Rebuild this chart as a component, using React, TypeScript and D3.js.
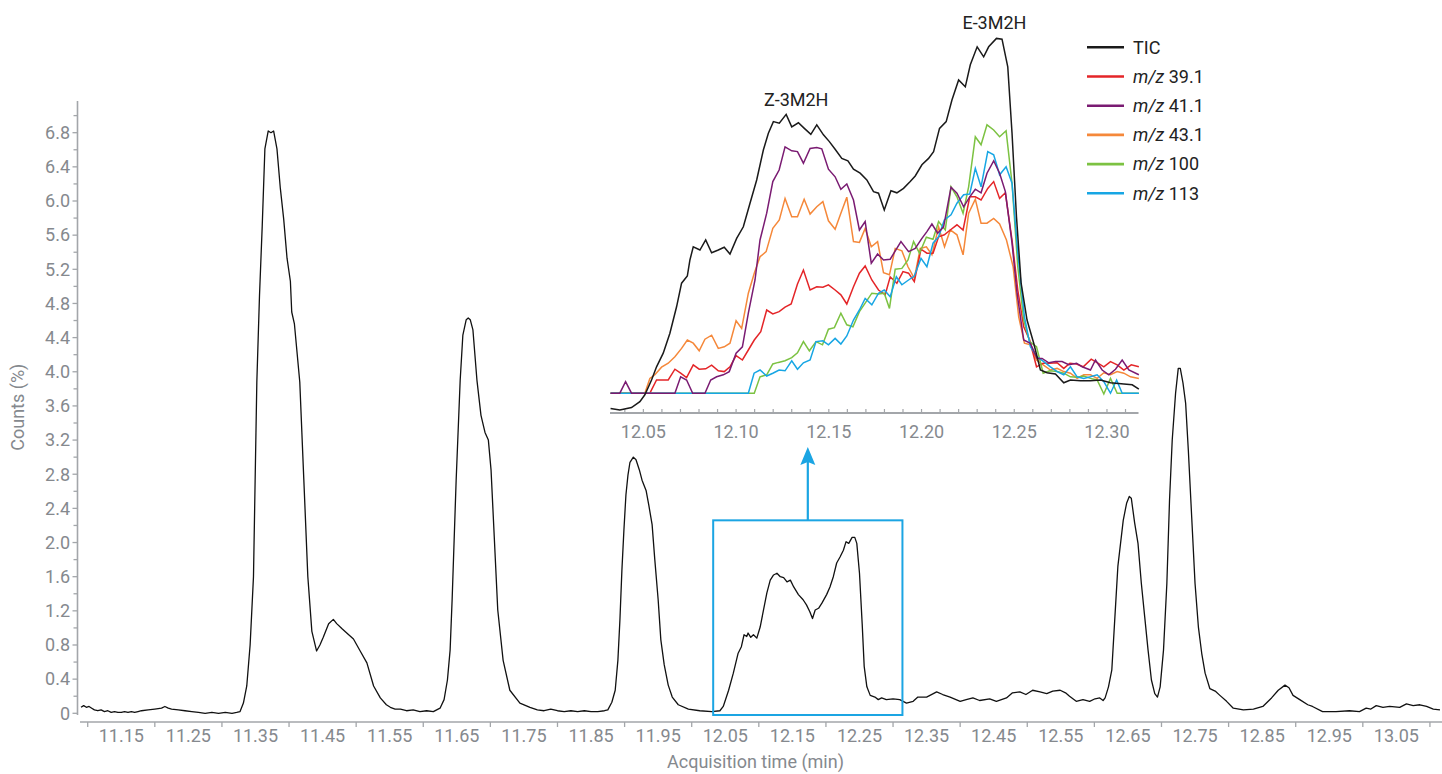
import React from 'react';
import * as d3 from 'd3';

// ─── Data ──────────────────────────────────────────────────

type Pt = [number, number];

// Full run TIC: [acquisition time (min), counts (%)]
const ticMain: Pt[] = [
  [11.09, 0.07], [11.094, 0.09], [11.098, 0.07], [11.102, 0.08], [11.106, 0.06], [11.11, 0.04],
  [11.115, 0.03], [11.12, 0.04], [11.125, 0.02], [11.13, 0.03], [11.135, 0.01], [11.14, 0.02],
  [11.145, 0.01], [11.15, 0.01], [11.155, 0.02], [11.16, 0.01], [11.165, 0.02], [11.17, 0.01],
  [11.175, 0.02], [11.18, 0.03], [11.19, 0.04], [11.2, 0.05], [11.21, 0.06], [11.215, 0.08],
  [11.22, 0.06], [11.225, 0.05], [11.235, 0.04], [11.245, 0.03], [11.255, 0.02], [11.265, 0.01],
  [11.275, 0.0], [11.285, 0.01], [11.295, 0.0], [11.305, 0.01], [11.315, 0.0], [11.322, 0.01],
  [11.327, 0.02], [11.332, 0.12], [11.337, 0.32], [11.342, 0.8], [11.347, 1.6], [11.352, 3.88],
  [11.356, 4.9], [11.36, 5.7], [11.364, 6.61], [11.369, 6.82], [11.373, 6.8], [11.377, 6.82],
  [11.382, 6.61], [11.387, 6.15], [11.392, 5.79], [11.397, 5.33], [11.402, 5.06], [11.404, 4.7],
  [11.408, 4.56], [11.416, 3.88], [11.422, 2.74], [11.428, 1.6], [11.434, 0.96], [11.441, 0.73],
  [11.446, 0.8], [11.451, 0.89], [11.459, 1.05], [11.466, 1.1], [11.471, 1.05], [11.479, 0.99],
  [11.486, 0.94], [11.496, 0.87], [11.506, 0.73], [11.516, 0.59], [11.526, 0.32], [11.536, 0.18],
  [11.545, 0.1], [11.551, 0.07], [11.558, 0.05], [11.566, 0.05], [11.575, 0.03], [11.585, 0.04],
  [11.595, 0.02], [11.605, 0.03], [11.615, 0.02], [11.625, 0.06], [11.631, 0.16], [11.636, 0.39],
  [11.64, 0.74], [11.643, 1.33], [11.646, 2.03], [11.649, 2.73], [11.655, 3.9], [11.659, 4.43],
  [11.664, 4.61], [11.667, 4.63], [11.67, 4.61], [11.674, 4.49], [11.68, 3.9], [11.686, 3.49],
  [11.692, 3.29], [11.697, 3.2], [11.701, 2.85], [11.706, 2.03], [11.711, 1.21], [11.719, 0.62],
  [11.729, 0.27], [11.744, 0.12], [11.759, 0.07], [11.77, 0.04], [11.78, 0.03], [11.79, 0.05],
  [11.8, 0.03], [11.81, 0.02], [11.82, 0.03], [11.83, 0.02], [11.84, 0.03], [11.85, 0.02],
  [11.86, 0.02], [11.87, 0.03], [11.875, 0.04], [11.881, 0.13], [11.886, 0.27], [11.89, 0.62],
  [11.893, 1.09], [11.896, 1.68], [11.899, 2.15], [11.902, 2.56], [11.905, 2.79], [11.908, 2.94],
  [11.913, 3.0], [11.917, 2.97], [11.922, 2.85], [11.926, 2.73], [11.932, 2.61], [11.936, 2.44],
  [11.941, 2.21], [11.945, 1.8], [11.95, 1.33], [11.954, 0.86], [11.959, 0.57], [11.965, 0.33],
  [11.971, 0.19], [11.98, 0.1], [11.995, 0.05], [12.012, 0.03], [12.03, 0.02], [12.042, 0.03],
  [12.047, 0.08], [12.055, 0.27], [12.062, 0.47], [12.069, 0.7], [12.074, 0.78], [12.078, 0.92],
  [12.082, 0.9], [12.084, 0.94], [12.088, 0.89], [12.092, 0.92], [12.097, 0.88], [12.102, 1.01],
  [12.107, 1.21], [12.112, 1.41], [12.117, 1.56], [12.122, 1.62], [12.127, 1.64], [12.132, 1.6],
  [12.137, 1.59], [12.142, 1.54], [12.147, 1.56], [12.152, 1.48], [12.159, 1.39], [12.166, 1.33],
  [12.171, 1.27], [12.176, 1.19], [12.18, 1.11], [12.184, 1.21], [12.189, 1.23], [12.194, 1.29],
  [12.201, 1.39], [12.206, 1.48], [12.211, 1.6], [12.216, 1.76], [12.221, 1.83], [12.226, 1.91],
  [12.23, 2.01], [12.234, 1.99], [12.239, 2.06], [12.243, 2.06], [12.246, 1.99], [12.25, 1.64],
  [12.254, 1.05], [12.257, 0.55], [12.261, 0.31], [12.266, 0.21], [12.273, 0.19], [12.278, 0.16],
  [12.283, 0.18], [12.29, 0.16], [12.3, 0.17], [12.31, 0.16], [12.32, 0.12], [12.33, 0.14],
  [12.337, 0.19], [12.35, 0.19], [12.365, 0.25], [12.374, 0.22], [12.385, 0.19], [12.4, 0.14],
  [12.409, 0.16], [12.419, 0.18], [12.429, 0.15], [12.444, 0.17], [12.454, 0.14], [12.469, 0.18],
  [12.478, 0.24], [12.489, 0.25], [12.498, 0.22], [12.508, 0.27], [12.519, 0.25], [12.529, 0.23],
  [12.538, 0.26], [12.549, 0.27], [12.557, 0.24], [12.563, 0.2], [12.573, 0.14], [12.583, 0.16],
  [12.593, 0.14], [12.601, 0.17], [12.608, 0.18], [12.613, 0.15], [12.616, 0.18], [12.621, 0.31],
  [12.626, 0.51], [12.63, 1.05], [12.635, 1.72], [12.643, 2.26], [12.648, 2.46], [12.652, 2.54],
  [12.655, 2.52], [12.66, 2.23], [12.665, 1.99], [12.67, 1.52], [12.675, 1.13], [12.68, 0.74],
  [12.685, 0.39], [12.69, 0.23], [12.694, 0.19], [12.698, 0.31], [12.703, 0.74], [12.708, 1.52],
  [12.712, 2.5], [12.716, 3.2], [12.721, 3.75], [12.725, 4.04], [12.728, 4.04], [12.732, 3.87],
  [12.736, 3.63], [12.74, 3.08], [12.745, 2.3], [12.75, 1.52], [12.755, 1.01], [12.76, 0.7],
  [12.765, 0.47], [12.772, 0.29], [12.78, 0.26], [12.787, 0.21], [12.797, 0.14], [12.807, 0.06],
  [12.822, 0.04], [12.837, 0.05], [12.851, 0.08], [12.864, 0.18], [12.874, 0.27], [12.884, 0.33],
  [12.89, 0.3], [12.896, 0.21], [12.906, 0.16], [12.918, 0.1], [12.925, 0.08], [12.94, 0.02],
  [12.96, 0.02], [12.98, 0.03], [12.995, 0.02], [13.005, 0.06], [13.012, 0.05], [13.02, 0.09],
  [13.03, 0.07], [13.04, 0.08], [13.055, 0.07], [13.065, 0.11], [13.075, 0.09], [13.085, 0.1],
  [13.095, 0.08], [13.105, 0.05], [13.115, 0.04],
];

// Inset traces: [time (min), relative abundance]
const insetTic: Pt[] = [
  [12.0323, 0.9], [12.0373, 0.5], [12.0436, 1.1], [12.0481, 2.6], [12.0508, 4.3], [12.0544, 8.0],
  [12.0571, 11.3], [12.0607, 14.7], [12.0643, 19.7], [12.0679, 26.3], [12.0706, 32.2], [12.0737, 34.0],
  [12.0751, 38.0], [12.0769, 41.3], [12.0805, 40.5], [12.0836, 43.0], [12.0868, 39.8], [12.0904, 40.5],
  [12.0936, 41.2], [12.0967, 39.5], [12.1003, 43.4], [12.1039, 46.3], [12.1075, 52.2], [12.1111, 58.0],
  [12.1147, 65.5], [12.1174, 69.7], [12.1201, 72.6], [12.1233, 72.2], [12.127, 74.4], [12.13, 71.3],
  [12.1336, 72.3], [12.1368, 70.9], [12.1403, 69.4], [12.1435, 71.8], [12.1471, 69.3], [12.1503, 67.6],
  [12.1534, 65.7], [12.157, 63.4], [12.1603, 62.8], [12.1633, 60.7], [12.1669, 59.7], [12.1705, 58.0],
  [12.1741, 55.1], [12.1768, 54.7], [12.1799, 50.5], [12.1835, 55.3], [12.1867, 54.8], [12.1903, 55.9],
  [12.1939, 57.6], [12.1966, 59.0], [12.2002, 61.8], [12.2038, 63.4], [12.2065, 65.1], [12.2097, 70.9],
  [12.2133, 72.6], [12.2164, 78.0], [12.22, 83.0], [12.2236, 81.3], [12.2263, 86.8], [12.23, 91.3],
  [12.2335, 88.8], [12.2362, 91.3], [12.2404, 93.4], [12.2434, 93.2], [12.2465, 86.3], [12.2488, 69.7],
  [12.2512, 48.8], [12.2537, 32.2], [12.2569, 23.0], [12.2605, 17.2], [12.2641, 10.5], [12.2677, 9.8],
  [12.2722, 9.5], [12.2767, 7.3], [12.2803, 8.0], [12.2857, 7.8], [12.2911, 7.8], [12.2965, 8.0],
  [12.3019, 7.3], [12.3091, 7.0], [12.3136, 6.8], [12.3172, 5.7],
];

const mz391: Pt[] = [
  [12.0323, 4.7], [12.0535, 4.7], [12.0571, 8.0], [12.0604, 8.0], [12.0634, 8.0], [12.067, 10.7],
  [12.0701, 9.7], [12.0733, 8.6], [12.0769, 11.8], [12.0801, 10.7], [12.0836, 10.8], [12.0868, 11.7],
  [12.0904, 10.3], [12.0936, 10.1], [12.0967, 11.3], [12.1, 14.1], [12.1034, 13.0], [12.1066, 15.5],
  [12.1098, 18.0], [12.1133, 20.1], [12.1165, 25.5], [12.1198, 24.5], [12.1232, 25.1], [12.1264, 26.2],
  [12.1297, 27.0], [12.1331, 32.0], [12.1363, 35.5], [12.1399, 30.5], [12.1435, 31.3], [12.1468, 31.2],
  [12.1498, 31.8], [12.1534, 30.5], [12.1565, 29.3], [12.1597, 27.0], [12.1633, 31.3], [12.1665, 34.7],
  [12.1696, 36.5], [12.1732, 33.0], [12.1768, 30.5], [12.1804, 29.3], [12.1831, 33.8], [12.1867, 32.2],
  [12.19, 35.1], [12.193, 34.7], [12.1961, 32.6], [12.1997, 40.7], [12.2029, 39.7], [12.2062, 39.7],
  [12.2092, 43.8], [12.2123, 44.3], [12.2155, 45.5], [12.2191, 46.8], [12.2224, 45.5], [12.226, 53.8],
  [12.229, 53.8], [12.2321, 53.0], [12.2357, 55.9], [12.2389, 57.6], [12.2421, 53.4], [12.2452, 54.8],
  [12.2488, 43.0], [12.2519, 30.5], [12.2551, 21.3], [12.2583, 18.0], [12.262, 11.3], [12.2656, 12.2],
  [12.2691, 12.2], [12.2731, 12.3], [12.2767, 10.9], [12.28, 12.2], [12.2836, 12.0], [12.2872, 11.3],
  [12.2915, 13.2], [12.2951, 12.2], [12.2983, 11.3], [12.3019, 12.6], [12.3055, 11.8], [12.3091, 10.5],
  [12.3131, 11.8], [12.3172, 11.3],
];

const mz411: Pt[] = [
  [12.0323, 4.7], [12.0373, 4.7], [12.0404, 7.6], [12.0436, 4.7], [12.067, 4.7], [12.0701, 8.8],
  [12.0733, 8.0], [12.0766, 4.7], [12.0832, 4.7], [12.0863, 8.0], [12.0895, 8.8], [12.0931, 9.3],
  [12.0963, 10.1], [12.1, 14.7], [12.1034, 16.3], [12.1066, 24.7], [12.1102, 33.0], [12.1129, 43.0],
  [12.1165, 49.7], [12.1198, 57.6], [12.1232, 60.5], [12.1264, 66.3], [12.13, 65.3], [12.1331, 65.1],
  [12.1363, 62.2], [12.1399, 65.9], [12.1435, 66.1], [12.1462, 65.8], [12.1498, 60.7], [12.1534, 58.8],
  [12.1565, 55.7], [12.1597, 57.0], [12.1633, 53.0], [12.1665, 45.5], [12.1696, 47.6], [12.1729, 37.2],
  [12.1763, 39.5], [12.1795, 38.0], [12.1831, 38.2], [12.1889, 42.6], [12.193, 40.1], [12.1966, 40.9],
  [12.2002, 43.4], [12.2029, 45.1], [12.2056, 47.0], [12.2087, 44.7], [12.2119, 46.3], [12.2159, 56.2],
  [12.2191, 54.7], [12.2227, 51.3], [12.226, 53.8], [12.229, 55.7], [12.2321, 54.8], [12.2353, 59.7],
  [12.2389, 62.8], [12.2421, 59.7], [12.2452, 55.1], [12.2488, 42.2], [12.2515, 29.7], [12.2551, 18.0],
  [12.2587, 17.2], [12.2623, 13.4], [12.265, 13.4], [12.2686, 12.3], [12.2722, 12.6], [12.2758, 12.6],
  [12.2794, 11.8], [12.2836, 12.2], [12.2866, 11.3], [12.2911, 10.5], [12.2938, 13.0], [12.2974, 10.5],
  [12.301, 9.3], [12.3046, 10.7], [12.3082, 13.0], [12.3118, 10.5], [12.3172, 9.3],
];

const mz431: Pt[] = [
  [12.0323, 4.7], [12.0508, 4.7], [12.0535, 8.4], [12.0562, 9.3], [12.0598, 11.2], [12.0634, 12.2],
  [12.067, 13.8], [12.0706, 15.9], [12.0737, 18.0], [12.0769, 17.2], [12.0801, 15.3], [12.0832, 18.2],
  [12.0868, 19.2], [12.0904, 15.9], [12.0936, 16.3], [12.0967, 17.2], [12.1, 22.8], [12.103, 20.9],
  [12.1066, 29.7], [12.1098, 34.7], [12.1129, 38.8], [12.1162, 40.1], [12.1198, 45.9], [12.1233, 48.0],
  [12.1264, 53.4], [12.13, 48.8], [12.1331, 48.8], [12.1367, 53.2], [12.1399, 49.5], [12.1435, 51.3],
  [12.1468, 52.6], [12.1498, 47.8], [12.1534, 45.7], [12.1565, 49.7], [12.1597, 53.7], [12.1633, 42.6],
  [12.1665, 42.4], [12.1696, 45.9], [12.1729, 41.3], [12.1763, 42.6], [12.1795, 34.8], [12.1827, 34.3],
  [12.1858, 40.9], [12.1894, 40.3], [12.1927, 36.3], [12.1961, 33.4], [12.1993, 40.9], [12.2026, 41.3],
  [12.2056, 39.3], [12.2092, 46.3], [12.2124, 41.3], [12.2155, 45.5], [12.2191, 44.3], [12.2224, 39.3],
  [12.2254, 49.7], [12.229, 53.2], [12.2321, 47.2], [12.2353, 47.2], [12.2389, 48.4], [12.2421, 47.0],
  [12.2458, 43.0], [12.2494, 36.3], [12.2524, 23.8], [12.2555, 17.2], [12.2587, 16.8], [12.262, 13.0],
  [12.2656, 11.8], [12.2695, 10.5], [12.2731, 10.9], [12.2767, 10.1], [12.2803, 9.7], [12.2839, 8.4],
  [12.2875, 9.3], [12.2911, 9.3], [12.2947, 8.4], [12.2983, 9.8], [12.3019, 9.3], [12.3055, 10.1],
  [12.3091, 9.7], [12.3127, 8.8], [12.3172, 8.4],
];

const mz100: Pt[] = [
  [12.0323, 4.7], [12.1098, 4.7], [12.1129, 8.8], [12.1165, 9.3], [12.1198, 12.0], [12.1228, 12.4],
  [12.1264, 12.8], [12.13, 13.6], [12.1331, 14.8], [12.1363, 17.6], [12.1395, 15.3], [12.1431, 17.6],
  [12.1466, 16.8], [12.1498, 20.7], [12.153, 21.1], [12.1565, 24.7], [12.1597, 21.8], [12.163, 21.3],
  [12.1665, 25.1], [12.1696, 27.2], [12.1732, 29.7], [12.1768, 29.5], [12.1799, 29.7], [12.1827, 25.9],
  [12.1858, 35.7], [12.1894, 35.9], [12.1927, 38.0], [12.1957, 42.6], [12.1989, 39.7], [12.2026, 43.7],
  [12.2062, 43.2], [12.2092, 47.6], [12.2128, 45.5], [12.2159, 56.3], [12.2191, 53.8], [12.2224, 49.7],
  [12.2254, 56.3], [12.229, 68.8], [12.2321, 66.8], [12.2353, 71.8], [12.2389, 70.5], [12.2421, 68.8],
  [12.2456, 70.3], [12.2488, 57.2], [12.2519, 36.3], [12.2551, 23.0], [12.2583, 17.6], [12.262, 16.3],
  [12.2656, 9.7], [12.2691, 10.3], [12.2731, 10.1], [12.2767, 9.7], [12.2803, 8.8], [12.2839, 8.7],
  [12.2875, 9.0], [12.2911, 8.4], [12.2947, 8.0], [12.2983, 4.5], [12.3019, 8.4], [12.3055, 4.7],
  [12.3172, 4.7],
];

const mz113: Pt[] = [
  [12.0323, 4.7], [12.1066, 4.7], [12.1097, 9.7], [12.1129, 10.5], [12.1165, 9.0], [12.1198, 9.7],
  [12.1232, 10.5], [12.1264, 10.3], [12.13, 12.8], [12.1331, 10.7], [12.1363, 12.3], [12.1399, 13.0],
  [12.1431, 17.6], [12.1468, 17.8], [12.1498, 16.8], [12.1534, 18.4], [12.1565, 17.0], [12.1597, 19.0],
  [12.1633, 23.0], [12.1665, 25.5], [12.1696, 28.4], [12.1732, 26.8], [12.1768, 29.7], [12.1799, 30.5],
  [12.1831, 28.8], [12.1864, 33.8], [12.1894, 31.8], [12.193, 33.0], [12.1961, 34.0], [12.1997, 38.4],
  [12.2029, 36.3], [12.2062, 42.2], [12.2092, 43.8], [12.2123, 48.0], [12.2159, 49.3], [12.2191, 52.2],
  [12.2227, 54.3], [12.226, 54.5], [12.229, 60.9], [12.2321, 56.3], [12.2357, 65.1], [12.2389, 64.3],
  [12.2421, 59.3], [12.2456, 61.3], [12.2488, 57.2], [12.2519, 39.7], [12.2555, 23.8], [12.2587, 16.3],
  [12.2623, 13.8], [12.2659, 12.6], [12.2695, 11.3], [12.2731, 10.1], [12.2767, 9.3], [12.2803, 11.3],
  [12.2839, 8.8], [12.2875, 8.4], [12.2911, 8.8], [12.2947, 9.3], [12.2983, 7.6], [12.3019, 4.7],
  [12.3052, 8.0], [12.3082, 4.7], [12.3172, 4.7],
];

// Axis ticks
const yMajorTicks = [0, 0.4, 0.8, 1.2, 1.6, 2.0, 2.4, 2.8, 3.2, 3.6, 4.0, 4.4, 4.8, 5.2, 5.6, 6.0, 6.4, 6.8];
const yMinorTicks = [0.2, 0.6, 1.0, 1.4, 1.8, 2.2, 2.6, 3.0, 3.4, 3.8, 4.2, 4.6, 5.0, 5.4, 5.8, 6.2, 6.6, 7.0];
const xTickMarks = [11.1, 11.2, 11.3, 11.4, 11.5, 11.6, 11.7, 11.8, 11.9, 12.0, 12.1, 12.2, 12.3, 12.4, 12.5, 12.6, 12.7, 12.8, 12.9, 13.0, 13.1];
const xTickLabels = [11.15, 11.25, 11.35, 11.45, 11.55, 11.65, 11.75, 11.85, 11.95, 12.05, 12.15, 12.25, 12.35, 12.45, 12.55, 12.65, 12.75, 12.85, 12.95, 13.05];
const insetTickMarks = [12.04, 12.05, 12.06, 12.07, 12.08, 12.09, 12.1, 12.11, 12.12, 12.13, 12.14, 12.15, 12.16, 12.17, 12.18, 12.19, 12.2, 12.21, 12.22, 12.23, 12.24, 12.25, 12.26, 12.27, 12.28, 12.29, 12.3, 12.31];
const insetTickLabels = [12.05, 12.1, 12.15, 12.2, 12.25, 12.3];

// zoomed window on the main trace: [t0, t1] and top counts
const zoomWindow = [12.032, 12.314];
const zoomTop = 2.26;
const arrowTop = 3.12;

const peakLabels = [
  { text: 'Z-3M2H', t: 12.1324, v: 76.4 },
  { text: 'E-3M2H', t: 12.2393, v: 95.8 },
];

// ─── Constants ─────────────────────────────────────────────

const FONT = 'Roboto, "Noto Sans", sans-serif';
const AXIS_GRAY = '#a3a6aa';
const TEXT_GRAY = '#85898e';
const BLUE_BOX = '#1ba5e3';
const FS = 18;

const SERIES = [
  { key: 'TIC', mz: '', label: 'TIC', color: '#1a1a1a', data: insetTic },
  { key: '39', mz: 'm/z', label: ' 39.1', color: '#e42528', data: mz391 },
  { key: '41', mz: 'm/z', label: ' 41.1', color: '#7a1b72', data: mz411 },
  { key: '43', mz: 'm/z', label: ' 43.1', color: '#f5883a', data: mz431 },
  { key: '100', mz: 'm/z', label: ' 100', color: '#7cc242', data: mz100 },
  { key: '113', mz: 'm/z', label: ' 113', color: '#17a6e4', data: mz113 },
];

// ─── Component ─────────────────────────────────────────────

export default function App() {
  const W = 1442;
  const H = 774;

  // main plot scales
  const x = d3.scaleLinear().domain([11.09, 13.115]).range([81, 1440]);
  const y = d3.scaleLinear().domain([0, 7.17]).range([713.3, 101.1]);
  const axisX = 77.5;
  const axisY = 722;

  // inset scales
  const ix = d3.scaleLinear().domain([12.032, 12.317]).range([610, 1138.5]);
  const iy = d3.scaleLinear().domain([0, 100]).range([412, 12]);
  const insetAxisY = 413;

  const mainLine = d3.line<Pt>().x((d) => x(d[0])).y((d) => y(d[1]));
  const insetLine = d3.line<Pt>().x((d) => ix(d[0])).y((d) => iy(d[1]));

  const boxX0 = x(zoomWindow[0]);
  const boxX1 = x(zoomWindow[1]);
  const boxY0 = y(zoomTop);
  const boxY1 = y(-0.02);
  const arrowX = (boxX0 + boxX1) / 2;
  const arrowTipY = y(arrowTop);

  const fmtY = (d: number) => (d === 0 ? '0' : d.toFixed(1));

  // draw order in inset: coloured ions first, TIC on top of them
  const drawOrder = [SERIES[3], SERIES[1], SERIES[4], SERIES[5], SERIES[2], SERIES[0]];

  return (
    <svg width={W} height={H} style={{ position: 'absolute', left: 0, top: 0, background: '#fff' }}
      fontFamily={FONT}>
      {/* y axis */}
      <line x1={axisX} x2={axisX} y1={y(-0.02)} y2={y(7.17)} stroke={AXIS_GRAY} strokeWidth={1.6} />
      {yMajorTicks.map((d) => (
        <g key={'ym' + d}>
          <line x1={axisX - 5} x2={axisX} y1={y(d)} y2={y(d)} stroke={AXIS_GRAY} strokeWidth={1.3} />
          <text x={axisX - 7.5} y={y(d)} dy="0.35em" textAnchor="end" fontSize={FS} fill={TEXT_GRAY}>{fmtY(d)}</text>
        </g>
      ))}
      {yMinorTicks.map((d) => (
        <line key={'yn' + d} x1={axisX - 4} x2={axisX} y1={y(d)} y2={y(d)} stroke={AXIS_GRAY} strokeWidth={1.3} />
      ))}
      <text transform={`translate(18,${(y(0) + y(7.17)) / 2}) rotate(-90)`} textAnchor="middle" dy="0.35em"
        fontSize={FS} fill={TEXT_GRAY}>Counts (%)</text>

      {/* x axis */}
      <line x1={80} x2={1442} y1={axisY} y2={axisY} stroke={AXIS_GRAY} strokeWidth={1.6} />
      {xTickMarks.map((d) => (
        <line key={'xt' + d} x1={x(d)} x2={x(d)} y1={axisY} y2={axisY + 5} stroke={AXIS_GRAY} strokeWidth={1.3} />
      ))}
      {xTickLabels.map((d) => (
        <text key={'xl' + d} x={x(d)} y={axisY + 20} textAnchor="middle" fontSize={FS} fill={TEXT_GRAY}>{d.toFixed(2)}</text>
      ))}
      <text x={(x(11.09) + x(13.115)) / 2 - 5} y={768} textAnchor="middle" fontSize={FS} fill={TEXT_GRAY}>Acquisition time (min)</text>

      {/* main TIC */}
      <path d={mainLine(ticMain) || ''} fill="none" stroke="#111" strokeWidth={1.3} strokeLinejoin="round" />

      {/* zoom box + arrow */}
      <rect x={boxX0} y={boxY0} width={boxX1 - boxX0} height={boxY1 - boxY0} fill="none" stroke={BLUE_BOX} strokeWidth={2} />
      <line x1={arrowX} x2={arrowX} y1={boxY0} y2={arrowTipY + 12} stroke={BLUE_BOX} strokeWidth={2.2} />
      <path d={`M${arrowX},${arrowTipY} L${arrowX - 7.5},${arrowTipY + 18} L${arrowX},${arrowTipY + 15} L${arrowX + 7.5},${arrowTipY + 18} Z`} fill={BLUE_BOX} />

      {/* inset */}
      <line x1={ix.range()[0]} x2={ix.range()[1]} y1={insetAxisY} y2={insetAxisY} stroke={AXIS_GRAY} strokeWidth={2} />
      {insetTickMarks.map((d) => (
        <line key={'it' + d} x1={ix(d)} x2={ix(d)} y1={insetAxisY - 4} y2={insetAxisY} stroke={AXIS_GRAY} strokeWidth={1.2} />
      ))}
      {insetTickLabels.map((d) => (
        <text key={'il' + d} x={ix(d)} y={insetAxisY + 25} textAnchor="middle" fontSize={FS} fill={TEXT_GRAY}>{d.toFixed(2)}</text>
      ))}
      {drawOrder.map((s) => (
        <path key={'s' + s.key} d={insetLine(s.data) || ''} fill="none" stroke={s.color} strokeWidth={1.5} strokeLinejoin="miter" />
      ))}
      {peakLabels.map((p) => (
        <text key={p.text} x={ix(p.t)} y={iy(p.v)} textAnchor="middle" fontSize={FS} fill="#222">{p.text}</text>
      ))}

      {/* legend */}
      {SERIES.map((s, i) => {
        const ly = 47.3 + i * 29.2;
        return (
          <g key={'lg' + s.key}>
            <line x1={1087} x2={1124} y1={ly} y2={ly} stroke={s.color} strokeWidth={2.6} />
            <text x={1133} y={ly} dy="0.35em" fontSize={FS} fill="#222">
              {s.mz ? <tspan fontStyle="italic">{s.mz}</tspan> : null}
              {s.label}
            </text>
          </g>
        );
      })}
    </svg>
  );
}
